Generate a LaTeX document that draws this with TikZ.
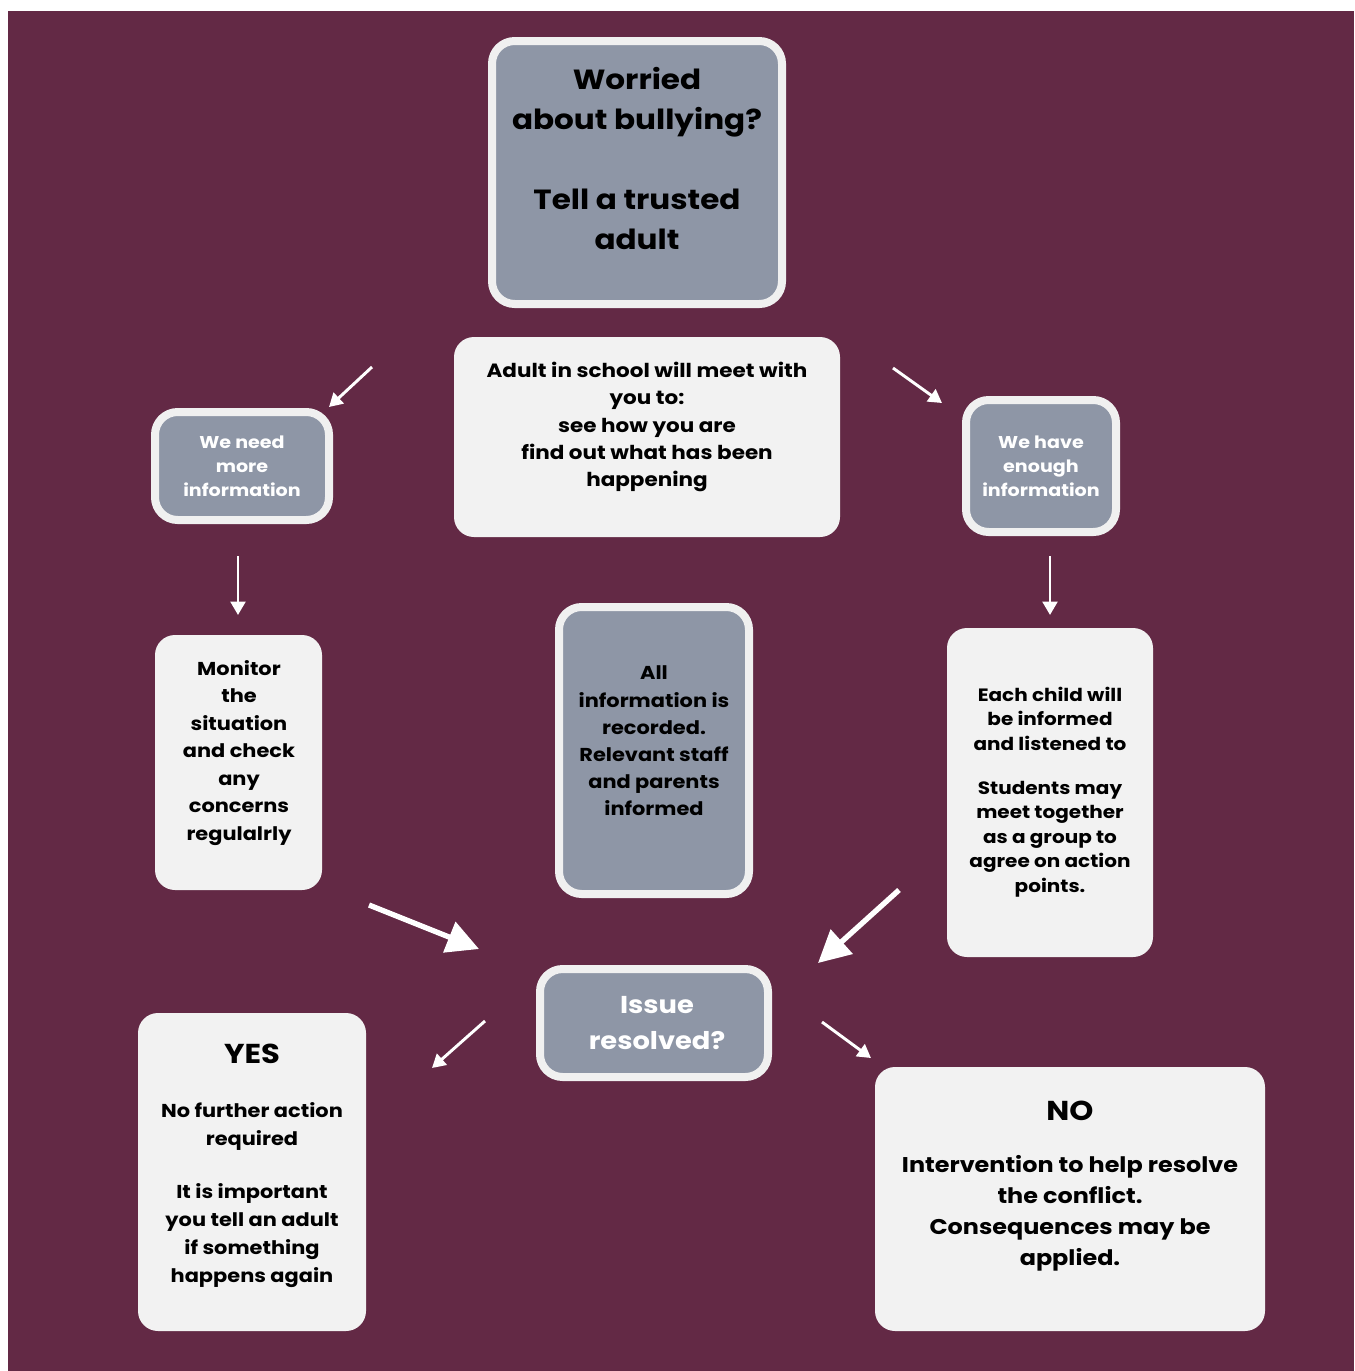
\documentclass[tikz,border=0pt]{standalone}
\usepackage{fontspec}
\setmainfont{Poppins}[FakeStretch=1.12]
\usetikzlibrary{arrows.meta,fit}
\definecolor{maroon}{HTML}{632945}
\definecolor{greyfill}{HTML}{8E96A6}
\definecolor{rim}{HTML}{F0F0F0}
\definecolor{paper}{HTML}{F2F2F2}
\begin{document}
\begin{tikzpicture}[x=0.75pt,y=-0.75pt,
  greybox/.style={draw=rim, line width=6pt, fill=greyfill, rounded corners=17pt, inner sep=0pt, rectangle},
  whitebox/.style={fill=paper, rounded corners=15pt, inner sep=0pt, rectangle},
  lbl/.style={align=center, inner sep=0pt, text=black},
  wlbl/.style={align=center, inner sep=0pt, text=white},
  smallarrow/.style={draw=white, line width=2.2pt, -{Triangle[length=10pt,width=11pt]}},
  bigarrow/.style={draw=white, line width=4pt, -{Triangle[length=24pt,width=24pt]}}]
\useasboundingbox (0,0) rectangle (1354,1371);
\fill[white] (0,0) rectangle (1354,1371);
\fill[maroon] (8,11) rectangle (1354,1371);

% boxes
\node[greybox, fit={(492,41) (782,304)}] (top) {};
\node[whitebox, fit={(454,337) (840,537)}] (meet) {};
\node[greybox, fit={(155,412) (329,520)}] (need) {};
\node[greybox, fit={(966,400) (1116,532)}] (have) {};
\node[whitebox, fit={(155,635) (322,890)}] (monitor) {};
\node[greybox, fit={(559,607) (749,894)}] (record) {};
\node[whitebox, fit={(947,628) (1153,957)}] (each) {};
\node[greybox, fit={(540,969) (768,1077)}] (issue) {};
\node[whitebox, fit={(138,1013) (366,1331)}] (yes) {};
\node[whitebox, fit={(875,1067) (1265,1331)}] (no) {};

% texts
\node[lbl, font=\bfseries\fontsize{20.8}{30}\selectfont] (toptxt) at (637,158)
  {Worried\\about bullying?\\[30pt]Tell a trusted\\adult};
\node[lbl, font=\bfseries\fontsize{14.4}{20.3}\selectfont] (meettxt) at (647,427)
  {Adult in school will meet with\\you to:\\see how you are\\find out what has been\\happening};
\node[wlbl, font=\bfseries\fontsize{12.8}{18}\selectfont] (needtxt) at (242,466)
  {We need\\more\\information};
\node[wlbl, font=\bfseries\fontsize{12.8}{18}\selectfont] (havetxt) at (1041,466)
  {We have\\enough\\information};
\node[lbl, font=\bfseries\fontsize{14}{20.6}\selectfont] (monitortxt) at (239,753)
  {Monitor\\the\\situation\\and check\\any\\concerns\\regulalrly};
\node[lbl, font=\bfseries\fontsize{14}{20.4}\selectfont] (recordtxt) at (654,741)
  {All\\information is\\recorded.\\Relevant staff\\and parents\\informed};
\node[lbl, font=\bfseries\fontsize{13.4}{18.4}\selectfont] (eachtxt) at (1050,792)
  {Each child will\\be informed\\and listened to\\[14.6pt]Students may\\meet  together\\as a group to\\agree on action\\points.};
\node[wlbl, font=\bfseries\fontsize{18.3}{27}\selectfont] (issuetxt) at (657,1023)
  {Issue\\resolved?};
\node[lbl, font=\bfseries\fontsize{14}{21}\selectfont] (yestxt) at (252,1166)
  {{\fontsize{20.5}{21}\selectfont YES}\\[19.5pt]No further action\\required\\[18.75pt]It is important\\you tell an adult\\if something\\happens again};
\node[lbl, font=\bfseries\fontsize{16}{23.25}\selectfont] (notxt) at (1070,1186)
  {{\fontsize{20.5}{23.25}\selectfont NO}\\[15.75pt]Intervention to help resolve\\the conflict.\\Consequences may be\\applied.};

% arrow end points
\coordinate (a1) at (372,367); \coordinate (a2) at (329,407);
\coordinate (b1) at (893,368); \coordinate (b2) at (942,403);
\coordinate (c1) at (238,556); \coordinate (c2) at (238,615);
\coordinate (d1) at (1050,556); \coordinate (d2) at (1050,615);
\coordinate (e1) at (369,905); \coordinate (e2) at (479,949);
\coordinate (f1) at (899,890); \coordinate (f2) at (818,963);
\coordinate (g1) at (485,1021); \coordinate (g2) at (432,1068);
\coordinate (h1) at (822,1022); \coordinate (h2) at (871,1058);

\draw[smallarrow] (a1) -- (a2);
\draw[smallarrow] (b1) -- (b2);
\draw[smallarrow] (c1) -- (c2);
\draw[smallarrow] (d1) -- (d2);
\draw[bigarrow] (e1) -- (e2);
\draw[bigarrow] (f1) -- (f2);
\draw[smallarrow] (g1) -- (g2);
\draw[smallarrow] (h1) -- (h2);
\end{tikzpicture}
\end{document}
